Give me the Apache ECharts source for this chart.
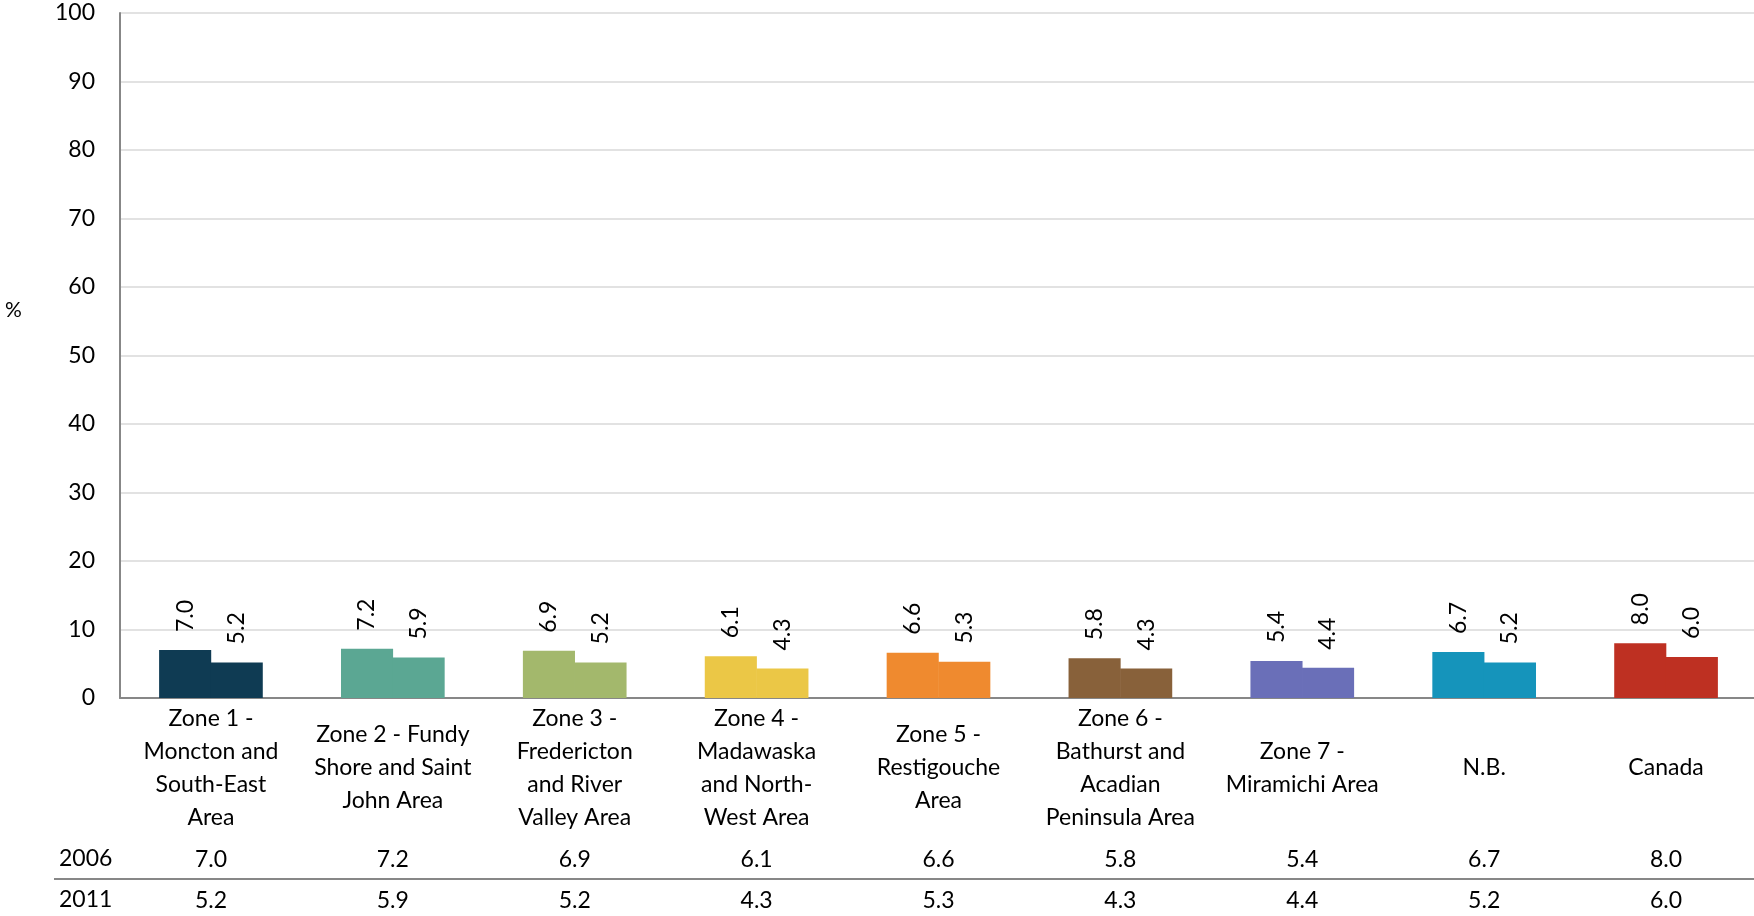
<!DOCTYPE html>
<html>
<head>
<meta charset="utf-8">
<script src="https://cdn.jsdelivr.net/npm/echarts@6/dist/echarts.min.js"></script>
<style>
  html, body { margin: 0; padding: 0; background: #fff; }
  #chart { width: 1754px; height: 916px; }
</style>
</head>
<body>
<div id="chart"></div>
<script>
// data
var categories = [
  'Zone 1 -\nMoncton and\nSouth-East\nArea',
  'Zone 2 - Fundy\nShore and Saint\nJohn Area',
  'Zone 3 -\nFredericton\nand River\nValley Area',
  'Zone 4 -\nMadawaska\nand North-\nWest Area',
  'Zone 5 -\nRestigouche\nArea',
  'Zone 6 -\nBathurst and\nAcadian\nPeninsula Area',
  'Zone 7 -\nMiramichi Area',
  'N.B.',
  'Canada'
]
var years = ['2006', '2011']
var values2006 = [7.0, 7.2, 6.9, 6.1, 6.6, 5.8, 5.4, 6.7, 8.0]
var values2011 = [5.2, 5.9, 5.2, 4.3, 5.3, 4.3, 4.4, 5.2, 6.0]
var yTicks = [0, 10, 20, 30, 40, 50, 60, 70, 80, 90, 100]

var zoneColors = ['#0f3b53', '#5ba793', '#a3b86c', '#ebc746', '#ef8a2f', '#88613a', '#6a6fb8', '#1594bb', '#be3022']

var font = 'Lato, "Open Sans", sans-serif'

function fmt(v) { return v.toFixed(1) }

var chart = echarts.init(document.getElementById('chart'))

var barLabel = {
  show: true,
  position: 'top',
  rotate: 90,
  align: 'left',
  verticalAlign: 'middle',
  distance: 18,
  fontFamily: font,
  fontSize: 23,
  color: '#000',
  formatter: function (p) { return fmt(p.value) }
}

function tableAxis(vals, offset) {
  return {
    type: 'category',
    gridIndex: 0,
    position: 'bottom',
    offset: offset,
    data: vals.map(fmt),
    axisLine: { show: false },
    axisTick: { show: false },
    axisLabel: {
      margin: 0,
      verticalAlign: 'middle',
      fontFamily: font,
      fontSize: 23,
      color: '#000',
      interval: 0
    }
  }
}

var option = {
  animation: false,
  backgroundColor: '#fff',
  grid: {
    left: 120,
    right: -3,
    top: 13,
    bottom: 218,
    outerBoundsMode: 'none',
    containLabel: false
  },
  xAxis: [
    {
      type: 'category',
      data: categories,
      axisLine: { lineStyle: { color: '#878787', width: 2 } },
      axisTick: { show: false },
      axisLabel: {
        interval: 0,
        margin: 70,
        verticalAlign: 'middle',
        lineHeight: 33,
        fontFamily: font,
        fontSize: 23,
        color: '#000'
      }
    },
    tableAxis(values2006, 162),
    tableAxis(values2011, 203)
  ],
  yAxis: {
    type: 'value',
    min: yTicks[0],
    max: yTicks[yTicks.length - 1],
    interval: 10,
    axisLine: { show: true, lineStyle: { color: '#878787', width: 2 } },
    axisTick: { show: false },
    axisLabel: {
      margin: 25,
      fontFamily: font,
      fontSize: 23,
      color: '#000'
    },
    splitLine: { lineStyle: { color: '#d9d9d9', width: 1.5 } }
  },
  series: [
    {
      name: years[0],
      type: 'bar',
      data: values2006,
      barGap: '-1%',
      barCategoryGap: '43%',
      itemStyle: { color: function (p) { return zoneColors[p.dataIndex] } },
      label: barLabel
    },
    {
      name: years[1],
      type: 'bar',
      data: values2011,
      barGap: '-1%',
      barCategoryGap: '43%',
      itemStyle: { color: function (p) { return zoneColors[p.dataIndex] } },
      label: barLabel
    }
  ],
  graphic: [
    {
      type: 'text',
      left: 5,
      top: 300,
      style: { text: '%', fontFamily: font, fontSize: 21, fill: '#000' }
    },
    {
      type: 'text',
      left: 59,
      top: 847,
      style: { text: years[0], fontFamily: font, fontSize: 23, fill: '#000' }
    },
    {
      type: 'text',
      left: 59,
      top: 888,
      style: { text: years[1], fontFamily: font, fontSize: 23, fill: '#000' }
    },
    {
      type: 'line',
      shape: { x1: 54, y1: 879, x2: 1754, y2: 879 },
      style: { stroke: '#878787', lineWidth: 2 }
    }
  ]
}

chart.setOption(option)
</script>
</body>
</html>
